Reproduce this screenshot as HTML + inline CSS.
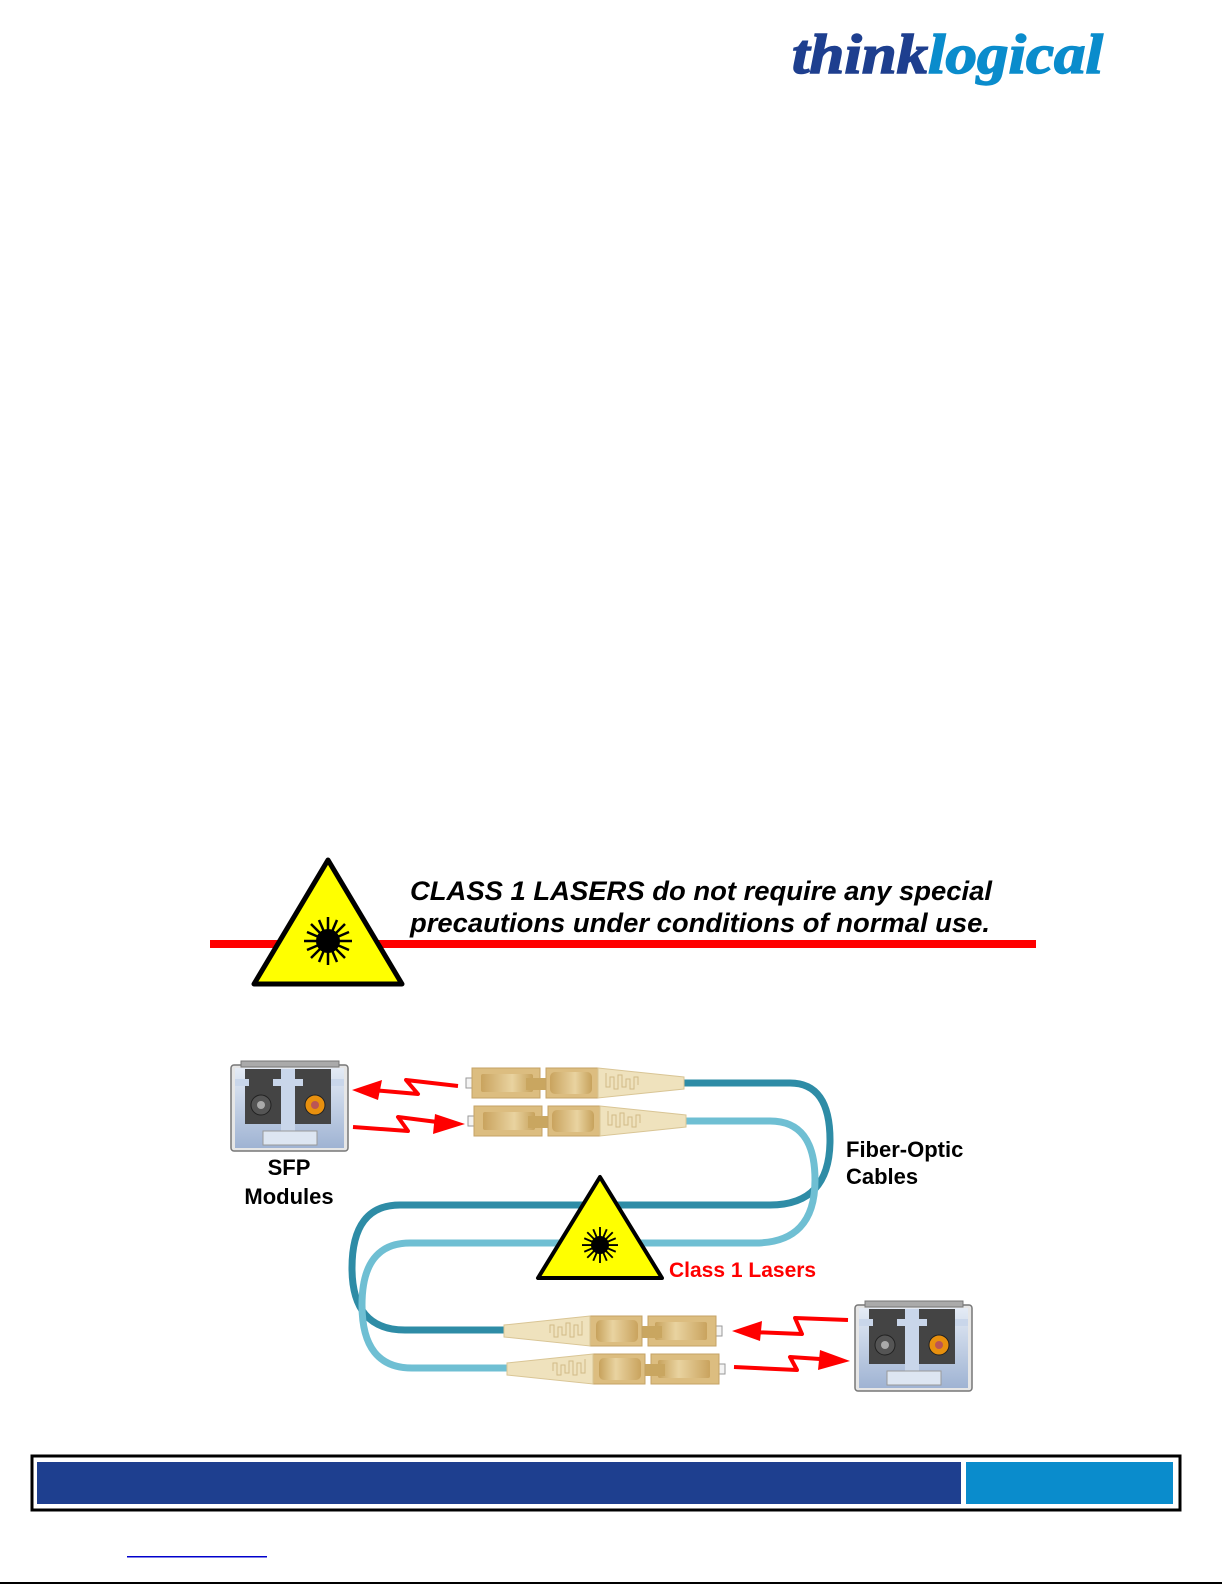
<!DOCTYPE html>
<html><head><meta charset="utf-8"><style>
html,body{margin:0;padding:0;background:#fff}
body{width:1225px;height:1585px;position:relative;overflow:hidden;font-family:"Liberation Sans",sans-serif}
</style></head><body>
<svg width="1225" height="1585" viewBox="0 0 1225 1585" xmlns="http://www.w3.org/2000/svg" style="position:absolute;left:0;top:0">
<defs>
<linearGradient id="tan" x1="0" x2="1"><stop offset="0" stop-color="#c9a35e"/><stop offset="0.6" stop-color="#e9d3a0"/><stop offset="1" stop-color="#c7a25c"/></linearGradient>
<linearGradient id="sfpg" x1="0" y1="0" x2="0" y2="1"><stop offset="0" stop-color="#e4ebf5"/><stop offset="1" stop-color="#9fb3d3"/></linearGradient>
<g id="conn">
<rect x="0" y="-5" width="7" height="10" fill="#f4f4f4" stroke="#999"/>
<rect x="6" y="-15" width="68" height="30" fill="#dcbd80" stroke="#c5a265"/>
<rect x="15" y="-9" width="52" height="18" rx="2" fill="url(#tan)"/>
<rect x="60" y="-5" width="22" height="12" fill="#c9a660"/>
<rect x="80" y="-15" width="52" height="30" fill="#dcbd80" stroke="#c5a265"/>
<rect x="84" y="-11" width="42" height="22" rx="5" fill="url(#tan)"/>
<polygon points="132,-15 218,-6 218,6 132,15" fill="#efe2bd" stroke="#d9c595"/>
<path d="M140,-10v14h4v-10h4v12h4v-14h4v12h4v-8h4v10h4v-12h4v8" fill="none" stroke="#d2bb86" stroke-width="1"/>
</g>
<g id="sfp">
<rect x="0" y="4" width="117" height="86" rx="3" fill="#e6e6e6" stroke="#777" stroke-width="1.5"/>
<rect x="10" y="0" width="98" height="6" fill="#aaa" stroke="#777"/>
<rect x="4" y="7" width="109" height="80" fill="url(#sfpg)"/>
<rect x="14" y="8" width="38" height="55" fill="#444"/>
<rect x="62" y="8" width="38" height="55" fill="#444"/>
<rect x="50" y="8" width="14" height="62" fill="#c9d6ea"/>
<rect x="42" y="18" width="30" height="7" fill="#c9d6ea"/>
<rect x="4" y="18" width="14" height="7" fill="#c9d6ea"/>
<rect x="100" y="18" width="13" height="7" fill="#c9d6ea"/>
<circle cx="30" cy="44" r="10" fill="#555" stroke="#222"/><circle cx="30" cy="44" r="4" fill="#aaa"/>
<circle cx="84" cy="44" r="10" fill="#e8900e" stroke="#222"/><circle cx="84" cy="44" r="4" fill="#b55"/>
<rect x="32" y="70" width="54" height="14" fill="#dde6f2" stroke="#999"/>
</g>
<g id="burst">
<circle r="12" fill="#000"/>
<g stroke="#000" stroke-width="2.5">
<line x1="-24" y1="0" x2="24" y2="0"/><line x1="0" y1="-24" x2="0" y2="24"/>
<line x1="-17" y1="-17" x2="17" y2="17"/><line x1="-17" y1="17" x2="17" y2="-17"/>
<line x1="-21" y1="-9" x2="21" y2="9"/><line x1="-21" y1="9" x2="21" y2="-9"/>
<line x1="-9" y1="-21" x2="9" y2="21"/><line x1="9" y1="-21" x2="-9" y2="21"/>
</g></g>
</defs>

<text x="792" y="73" font-family="Liberation Serif,serif" font-style="italic" font-weight="bold" font-size="56" fill="#1e3f8f" stroke="#1e3f8f" stroke-width="1.5" textLength="136" lengthAdjust="spacingAndGlyphs">think</text>
<text x="928" y="73" font-family="Liberation Serif,serif" font-style="italic" font-weight="bold" font-size="56" fill="#0a8ccc" stroke="#0a8ccc" stroke-width="1.5" textLength="175" lengthAdjust="spacingAndGlyphs">logical</text>

<rect x="210" y="940" width="826" height="8" fill="#f00"/>
<polygon points="328,860 254,984 402,984" fill="#ff0" stroke="#000" stroke-width="5" stroke-linejoin="round"/>
<use href="#burst" transform="translate(328,941)"/>
<text font-style="italic" font-weight="bold" font-size="27" fill="#000"><tspan x="410" y="900" textLength="582" lengthAdjust="spacingAndGlyphs">CLASS 1 LASERS do not require any special</tspan><tspan x="410" y="932" textLength="580" lengthAdjust="spacingAndGlyphs">precautions under conditions of normal use.</tspan></text>

<path d="M683,1083H790Q830,1083 830,1140Q830,1205 770,1205H400Q352,1205 352,1268Q352,1330 405,1330H508" fill="none" stroke="#2e8ca6" stroke-width="7"/>
<path d="M686,1121H770Q815,1121 815,1180Q815,1243 755,1243H410Q362,1243 362,1305Q362,1368 412,1368H512" fill="none" stroke="#6fbfd3" stroke-width="7"/>

<use href="#conn" transform="translate(466,1083)"/>
<use href="#conn" transform="translate(468,1121)"/>
<use href="#conn" transform="translate(722,1331) scale(-1,1)"/>
<use href="#conn" transform="translate(725,1369) scale(-1,1)"/>

<use href="#sfp" transform="translate(231,1061)"/>
<use href="#sfp" transform="translate(855,1301)"/>

<g fill="none" stroke="#f00" stroke-width="4" stroke-linejoin="round">
<polyline points="458,1086 406,1080 418,1094 372,1090"/>
<polyline points="353,1127 408,1131 398,1117 445,1123"/>
<polyline points="848,1320 795,1318 802,1334 752,1332"/>
<polyline points="734,1367 797,1370 790,1357 835,1360"/>
</g>
<g fill="#f00">
<polygon points="352,1090 382,1080 378,1100"/>
<polygon points="465,1124 435,1114 433,1134"/>
<polygon points="732,1331 762,1321 760,1341"/>
<polygon points="850,1361 820,1350 818,1370"/>
</g>

<polygon points="600,1177 538,1278 662,1278" fill="#ff0" stroke="#000" stroke-width="4" stroke-linejoin="round"/>
<use href="#burst" transform="translate(600,1245) scale(0.75)"/>

<g font-weight="bold" font-size="22" fill="#000">
<text x="289" y="1175" text-anchor="middle">SFP</text>
<text x="289" y="1204" text-anchor="middle">Modules</text>
<text x="846" y="1157">Fiber-Optic</text>
<text x="846" y="1184">Cables</text>
<text x="669" y="1277" fill="#f00" font-size="21">Class 1 Lasers</text>
</g>

<rect x="32" y="1456" width="1148" height="54" fill="#fff" stroke="#000" stroke-width="3"/>
<rect x="37" y="1462" width="924" height="42" fill="#1e3f8f"/>
<rect x="966" y="1462" width="207" height="42" fill="#0a8ccc"/>
<rect x="127" y="1556" width="140" height="1.5" fill="#00c"/>
<rect x="0" y="1582" width="1222" height="2" fill="#000"/>
</svg>
</body></html>
